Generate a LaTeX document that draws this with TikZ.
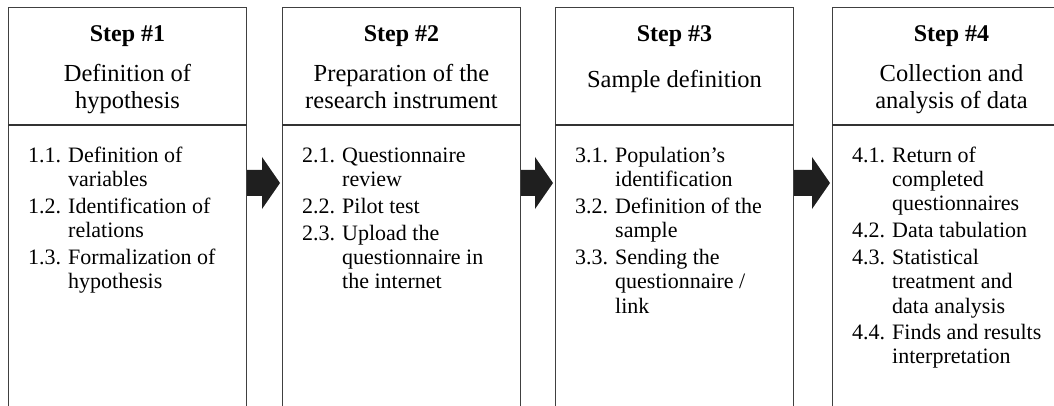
\documentclass[tikz,border=0pt]{standalone}
\usepackage{fontspec}
\setmainfont{Liberation Serif}
\usetikzlibrary{calc}
\tikzset{
  colbox/.style={draw=black!75, line width=1pt, minimum width=238pt, minimum height=430pt, inner sep=0pt, anchor=north west},
  sepline/.style={draw=black!80, line width=1.8pt},
  steptitle/.style={font=\bfseries\fontsize{24}{27}\selectfont, inner sep=0pt, anchor=base},
  stepname/.style={font=\fontsize{24.5}{27}\selectfont, align=center, inner sep=0pt, anchor=north},
  steplist/.style={font=\fontsize{22}{24}\selectfont, inner sep=0pt, anchor=base west},
  blockarrow/.style={fill=black!88}
}
\begin{document}
\begin{tikzpicture}[x=1pt,y=-1pt]
\useasboundingbox (0,0) rectangle (1054,406);
% columns
\node [colbox] (box1) at (8,7) {};
\node [colbox] (box2) at (282,7) {};
\node [colbox] (box3) at (555,7) {};
\node [colbox] (box4) at (832,7) {};
\coordinate (sep) at (0,125);
\draw [sepline] (box1.west |- sep) -- (box1.east |- sep);
\draw [sepline] (box2.west |- sep) -- (box2.east |- sep);
\draw [sepline] (box3.west |- sep) -- (box3.east |- sep);
\draw [sepline] (box4.west |- sep) -- (box4.east |- sep);
% headers
\node [steptitle] (title1) at (box1.north |- 0,42) {Step \#1};
\node [steptitle] (title2) at (box2.north |- 0,42) {Step \#2};
\node [steptitle] (title3) at (box3.north |- 0,42) {Step \#3};
\node [steptitle] (title4) at (box4.north |- 0,42) {Step \#4};
\node [stepname] (name1) at (box1.north |- 0,64.5) {Definition of\\hypothesis};
\node [stepname] (name2) at (box2.north |- 0,64.5) {Preparation of the\\research instrument};
\node [stepname] (name3) at (box3.north |- 0,70.5) {Sample definition};
\node [stepname] (name4) at (box4.north |- 0,64.5) {Collection and\\analysis of data};
% lists
\node [steplist] (list1) at ($(box1.west |- 0,163)+(20,0)$) {\begin{tabular}[t]{@{}p{40pt}@{}l@{}}
1.1. & Definition of\\
     & variables\\[3pt]
1.2. & Identification of\\
     & relations\\[3pt]
1.3. & Formalization of\\
     & hypothesis
\end{tabular}};
\node [steplist] (list2) at ($(box2.west |- 0,163)+(20,0)$) {\begin{tabular}[t]{@{}p{40pt}@{}l@{}}
2.1. & Questionnaire\\
     & review\\[3pt]
2.2. & Pilot test\\[3pt]
2.3. & Upload the\\
     & questionnaire in\\
     & the internet
\end{tabular}};
\node [steplist] (list3) at ($(box3.west |- 0,163)+(20,0)$) {\begin{tabular}[t]{@{}p{40pt}@{}l@{}}
3.1. & Population's\\
     & identification\\[3pt]
3.2. & Definition of the\\
     & sample\\[3pt]
3.3. & Sending the\\
     & questionnaire /\\
     & link
\end{tabular}};
\node [steplist] (list4) at ($(box4.west |- 0,163)+(20,0)$) {\begin{tabular}[t]{@{}p{40pt}@{}l@{}}
4.1. & Return of\\
     & completed\\
     & questionnaires\\[3pt]
4.2. & Data tabulation\\[3pt]
4.3. & Statistical\\
     & treatment and\\
     & data analysis\\[3pt]
4.4. & Finds and results\\
     & interpretation
\end{tabular}};
% arrows between steps
\fill [blockarrow] (box1.east |- 0,170) -- ($(box2.west |- 0,170)+(-20,0)$) -- ++(0,-13)
  -- ($(box2.west |- 0,183)+(-2,0)$) -- ($(box2.west |- 0,209)+(-20,0)$) -- ++(0,-13)
  -- (box1.east |- 0,196) -- cycle;
\fill [blockarrow] (box2.east |- 0,170) -- ($(box3.west |- 0,170)+(-20,0)$) -- ++(0,-13)
  -- ($(box3.west |- 0,183)+(-2,0)$) -- ($(box3.west |- 0,209)+(-20,0)$) -- ++(0,-13)
  -- (box2.east |- 0,196) -- cycle;
\fill [blockarrow] (box3.east |- 0,170) -- ($(box4.west |- 0,170)+(-20,0)$) -- ++(0,-13)
  -- ($(box4.west |- 0,183)+(-2,0)$) -- ($(box4.west |- 0,209)+(-20,0)$) -- ++(0,-13)
  -- (box3.east |- 0,196) -- cycle;
\end{tikzpicture}
\end{document}
